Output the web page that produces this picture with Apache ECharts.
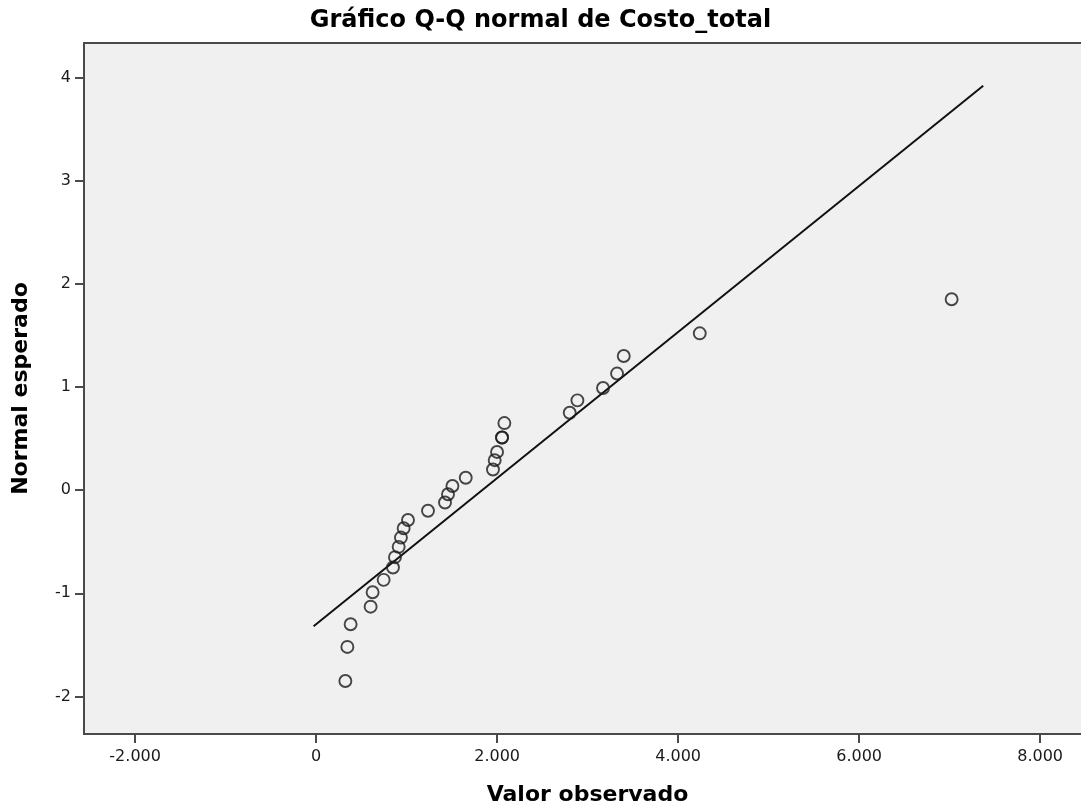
<!DOCTYPE html>
<html>
<head>
<meta charset="utf-8">
<title>Gráfico Q-Q normal de Costo_total</title>
<script src="https://cdn.jsdelivr.net/npm/echarts@6/dist/echarts.min.js"></script>
<style>
  html, body { margin: 0; padding: 0; background: #fff; }
  #chart { width: 1081px; height: 810px; }
</style>
</head>
<body>
<div id="chart"></div>
<script>
// valores observados (ordenados) y su normal esperado
const observed = [323, 345, 381, 602, 624, 746, 849, 871, 912, 937, 967, 1015, 1236, 1424, 1457,
  1506, 1653, 1954, 1973, 1999, 2054, 2054, 2080, 2802, 2887, 3170, 3325, 3399, 4239, 7022]
const expected = [-1.85, -1.52, -1.30, -1.13, -0.99, -0.87, -0.75, -0.65, -0.55, -0.46, -0.37, -0.29, -0.20, -0.12, -0.04,
  0.04, 0.12, 0.20, 0.29, 0.37, 0.51, 0.51, 0.65, 0.75, 0.87, 0.99, 1.13, 1.30, 1.52, 1.85]

// recta de referencia (extremos)
const lineX = [-28, 7371]
const lineY = [-1.32, 3.92]

const xTicks = [-2000, 0, 2000, 4000, 6000, 8000]
const yTicks = [-2, -1, 0, 1, 2, 3, 4]

const font = 'DejaVu Sans'
const axisColor = '#4a4a4a'

const myChart = echarts.init(document.getElementById('chart'))
myChart.setOption({
  animation: false,
  backgroundColor: '#fff',
  title: {
    text: 'Gráfico Q-Q normal de Costo_total',
    left: 'center',
    top: 4,
    textStyle: { fontFamily: font, fontSize: 24, fontWeight: 'bold', color: '#000' }
  },
  grid: {
    left: 84, top: 43, width: 1007, height: 691,
    containLabel: false,
    outerBoundsMode: 'none',
    show: true,
    backgroundColor: '#f0f0f0',
    borderColor: axisColor,
    borderWidth: 2
  },
  xAxis: {
    type: 'value',
    min: -2565,
    max: 8562,
    name: 'Valor observado',
    nameLocation: 'middle',
    nameGap: 50,
    nameTextStyle: { fontFamily: font, fontSize: 22, fontWeight: 'bold', color: '#000' },
    axisLine: { show: true, onZero: false, lineStyle: { color: axisColor, width: 2 } },
    splitLine: { show: false },
    axisTick: { show: true, length: 9, customValues: xTicks, lineStyle: { color: axisColor, width: 2 } },
    axisLabel: {
      customValues: xTicks,
      margin: 15,
      fontFamily: font,
      fontSize: 16,
      color: '#1a1a1a',
      formatter: v => v === 0 ? '0' : (v / 1000).toFixed(3)
    }
  },
  yAxis: {
    type: 'value',
    min: -2.364,
    max: 4.334,
    name: 'Normal esperado',
    nameLocation: 'middle',
    nameGap: 52,
    nameTextStyle: { fontFamily: font, fontSize: 22, fontWeight: 'bold', color: '#000' },
    axisLine: { show: true, onZero: false, lineStyle: { color: axisColor, width: 2 } },
    splitLine: { show: false },
    axisTick: { show: true, length: 9, customValues: yTicks, lineStyle: { color: axisColor, width: 2 } },
    axisLabel: {
      customValues: yTicks,
      margin: 13,
      fontFamily: font,
      fontSize: 16,
      color: '#1a1a1a'
    }
  },
  series: [
    {
      type: 'line',
      data: lineX.map((x, i) => [x, lineY[i]]),
      symbol: 'none',
      lineStyle: { color: '#111', width: 2 },
      z: 2
    },
    {
      type: 'scatter',
      data: observed.map((x, i) => [x, expected[i]]),
      symbol: 'circle',
      symbolSize: 12,
      itemStyle: { color: 'rgba(0,0,0,0)', borderColor: '#1a1a1a', borderWidth: 1.9 },
      z: 3
    }
  ]
})
</script>
</body>
</html>
